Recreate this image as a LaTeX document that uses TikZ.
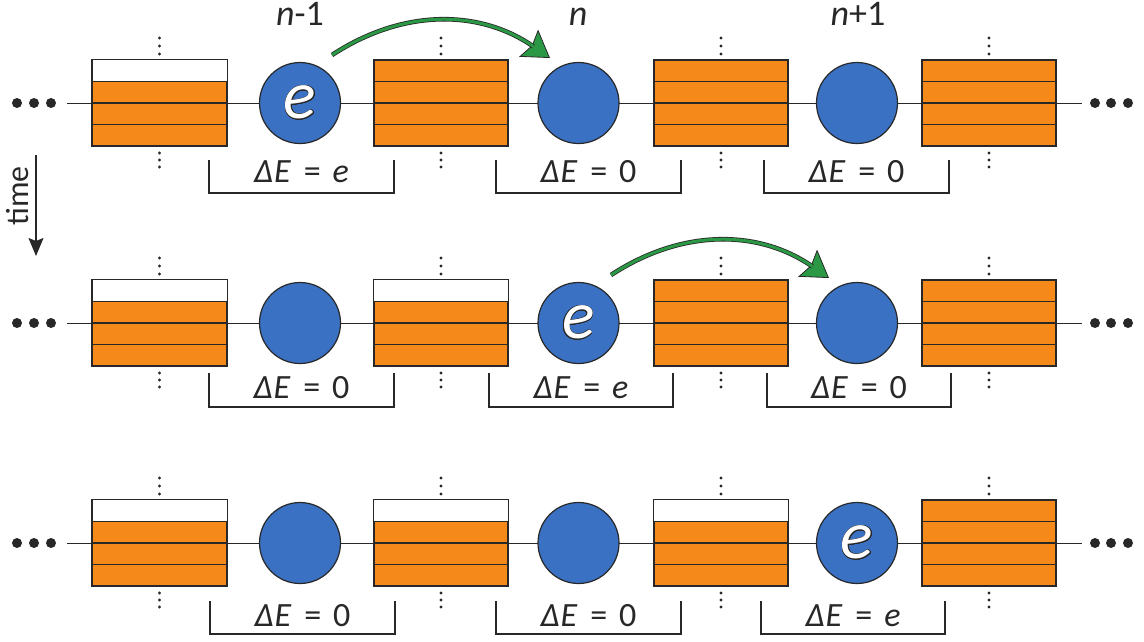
\documentclass[tikz,border=0pt]{standalone}
\usepackage{fontspec}
\setmainfont{Carlito}
\usepackage{contour}
\contourlength{0.7pt}
\usetikzlibrary{arrows.meta,calc}
\definecolor{orng}{RGB}{245,137,26}
\definecolor{blu}{RGB}{58,113,195}
\definecolor{grn}{RGB}{42,152,68}
\definecolor{ink}{RGB}{40,40,40}
\tikzset{
  stackbox/.style={draw=ink, line width=1.3pt, fill=orng, minimum width=134pt, minimum height=86pt, inner sep=0pt},
  site/.style={circle, draw=ink, line width=1.2pt, fill=blu, minimum size=81pt, inner sep=0pt},
  chainline/.style={draw=ink, line width=0.9pt},
  stackline/.style={draw=ink, line width=1.3pt},
  bracketline/.style={draw=ink, line width=1.5pt},
  lab/.style={font=\fontsize{34}{34}\selectfont, text=ink, anchor=base, inner sep=0pt},
  toplab/.style={font=\fontsize{36}{36}\selectfont, text=ink, anchor=base, inner sep=0pt},
  hopshaft/.style={draw=ink, line width=0.8pt, double=grn, double distance=3pt},
  hoptip/.style={draw=ink, line width=0.8pt, -{Stealth[length=26pt,width=33pt,inset=4pt,fill=grn]}},
}
\newcommand\elec{{\fontsize{68}{68}\selectfont\itshape\contour{ink}{\textcolor{white}{e}}}}
\newcommand\dE[1]{{\itshape \char"0394\kern1pt E}\hspace{13pt}=\hspace{12pt}#1}
% name, x, y, empty top strip (1/0)
\newcommand\stack[4]{%
  \node[stackbox] (#1) at (#2,#3) {};
  \ifnum#4=1 \fill[white] (#1.north west) rectangle ($(#1.north east)!.25!(#1.south east)$);\fi
  \foreach \f in {0.25,0.5,0.75}{
    \draw[stackline] ($(#1.north west)!\f!(#1.south west)$) -- ($(#1.north east)!\f!(#1.south east)$);}
  \draw[stackline] (#1.north west) rectangle (#1.south east);
  \foreach \d in {-65,-57,-49,50,57,64}{\fill[ink] (#2,#3+\d) circle (1.6pt);}
}
% name, x1, x2, top, bottom, baseline, label
\newcommand\bracketlab[7]{%
  \draw[bracketline] (#2,#4) |- (#3,#5) -- (#3,#4);
  \node[lab] (#1) at ({(#2+#3)/2},#6) {#7};
}
% name prefix, y
\newcommand\rowline[2]{%
  \coordinate (#1L) at (67,#2);
  \coordinate (#1R) at (1082,#2);
  \draw[chainline] (#1L) -- (#1R);
  \foreach \x in {17,34,51,1095,1111,1128}{\fill[ink] (\x,#2) circle (5pt);}
}
\begin{document}
\begin{tikzpicture}[x=1pt,y=-1pt]
\fill[white] (0,0) rectangle (1144,641);
\useasboundingbox (0,0) rectangle (1144,641);

% labels
\node[toplab] (lnm1) at (300,25) {\textit{n}-1};
\node[toplab] (ln) at (578,25) {\textit{n}};
\node[toplab] (lnp1) at (858,25) {\textit{n}+1};

% time
\node[rotate=90, anchor=base, inner sep=0pt, text=ink, font=\fontsize{32}{32}\selectfont] (timelab) at (28,196) {time};
\coordinate (t0) at (36,155);
\coordinate (t1) at (36,256);
\draw[ink, line width=1.3pt, -{Stealth[length=18pt,width=15pt,inset=3pt]}] (t0) -- (t1);

% row 1
\rowline{r1}{103}
\stack{b11}{159.5}{103}{1}
\stack{b12}{441}{103}{0}
\stack{b13}{721}{103}{0}
\stack{b14}{989}{103}{0}
\node[site] (c11) at (300,103) {\elec};
\node[site] (c12) at (578.5,103) {};
\node[site] (c13) at (857,103) {};
\bracketlab{d11}{209}{394}{160}{193}{182}{\dE{\itshape e}}
\bracketlab{d12}{496}{681}{160}{193}{182}{\dE{0}}
\bracketlab{d13}{764}{949}{160}{193}{182}{\dE{0}}

% row 2
\rowline{r2}{323}
\stack{b21}{159.5}{323}{1}
\stack{b22}{441}{323}{1}
\stack{b23}{721}{323}{0}
\stack{b24}{989}{323}{0}
\node[site] (c21) at (300,323) {};
\node[site] (c22) at (578.5,323) {\elec};
\node[site] (c23) at (857,323) {};
\bracketlab{d21}{209}{394}{373}{407}{398}{\dE{0}}
\bracketlab{d22}{489}{673}{373}{407}{398}{\dE{\itshape e}}
\bracketlab{d23}{767}{951}{373}{407}{398}{\dE{0}}

% row 3
\rowline{r3}{543}
\stack{b31}{159.5}{543}{1}
\stack{b32}{441}{543}{1}
\stack{b33}{721}{543}{1}
\stack{b34}{989}{543}{0}
\node[site] (c31) at (300,543) {};
\node[site] (c32) at (578.5,543) {};
\node[site] (c33) at (857,543) {\elec};
\bracketlab{d31}{210}{395}{601}{634}{626}{\dE{0}}
\bracketlab{d32}{496}{681}{601}{634}{626}{\dE{0}}
\bracketlab{d33}{761}{945}{601}{634}{626}{\dE{\itshape e}}

% hops
\coordinate (h1s) at (332,55);
\coordinate (h1e) at (550,58);
\draw[hoptip] (h1s) to[bend left=34] (h1e);
\draw[hopshaft, shorten >=20pt] (h1s) to[bend left=34] (h1e);
\coordinate (h2s) at (611,275);
\coordinate (h2e) at (829,278);
\draw[hoptip] (h2s) to[bend left=34] (h2e);
\draw[hopshaft, shorten >=20pt] (h2s) to[bend left=34] (h2e);
\end{tikzpicture}
\end{document}
